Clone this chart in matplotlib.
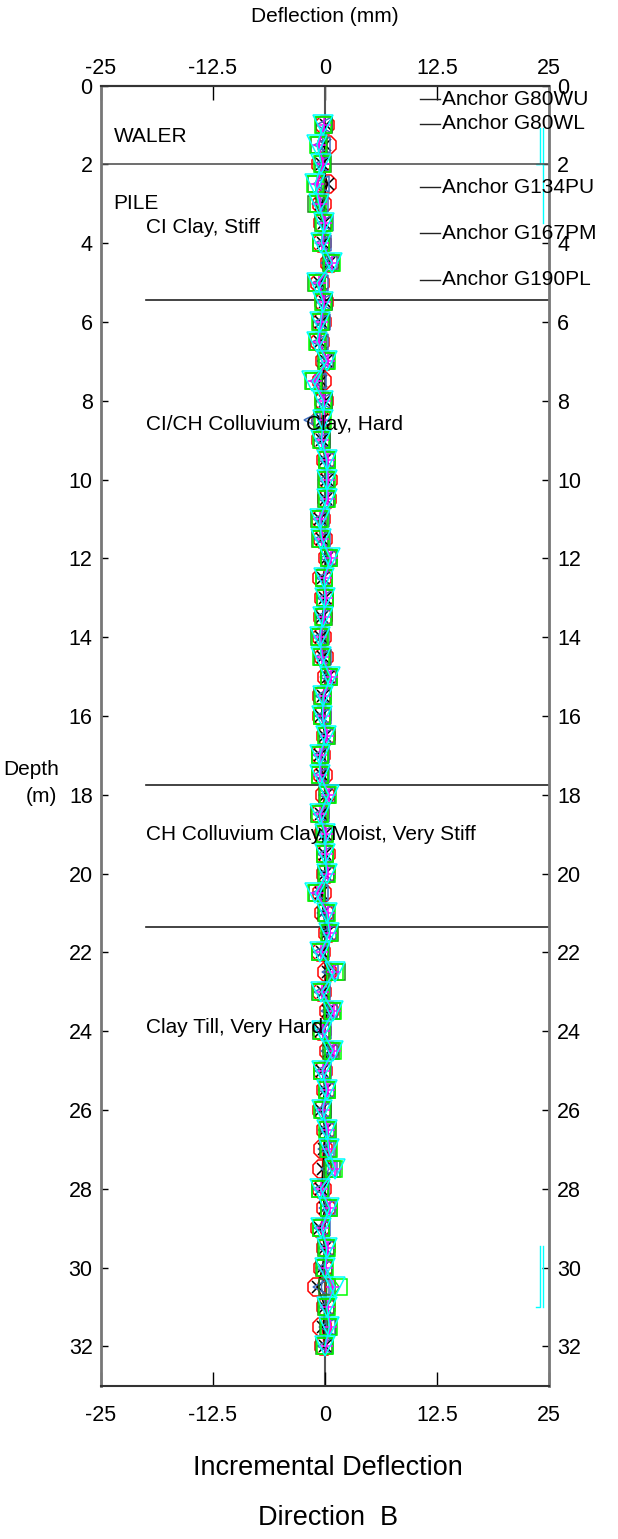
import numpy as np
import matplotlib
matplotlib.use("Agg")
import matplotlib.pyplot as plt
import matplotlib.transforms as mtransforms

plt.rcParams['font.family'] = ['Liberation Sans', 'DejaVu Sans']

# inclinometer stations (m), every 0.5 m from 1.0 to 32.0
depth = np.arange(1.0, 32.5, 0.5)

# incremental deflection (mm) per reading
read_red = [0.0, 0.2, -0.4, 0.2, -0.3, -0.2, -0.3, 0.6, -0.6, -0.1, -0.3, -0.5, 0.0, -0.3, -0.1, -0.4,
            -0.4, 0.1, 0.3, 0.2, -0.4, -0.2, 0.3, -0.3, -0.1, -0.2, -0.3, -0.1, 0.2, -0.3, -0.3, 0.1,
            -0.4, -0.2, 0.0, -0.5, -0.1, 0.1, 0.1, -0.3, -0.1, 0.3, -0.4, 0.2, -0.3, 0.4, -0.3, 0.5,
            -0.2, 0.1, -0.3, 0.1, -0.2, -0.3, -0.3, 0.1, -0.6, 0.1, -0.2, -0.9, 0.1, -0.3, -0.1]
read_black = [0.1, 0.0, -0.3, 0.3, -0.4, -0.1, -0.2, 0.5, -0.5, 0.0, -0.4, -0.6, 0.1, -0.4, 0.0, -0.3,
              -0.3, 0.0, 0.2, 0.1, -0.5, -0.3, 0.2, -0.2, 0.0, -0.3, -0.4, -0.2, 0.3, -0.2, -0.4, 0.0,
              -0.5, -0.3, 0.1, -0.4, 0.0, 0.0, 0.0, -0.4, -0.2, 0.2, -0.3, 0.3, -0.2, 0.3, -0.4, 0.4,
              -0.3, 0.0, -0.4, 0.0, -0.1, -0.2, -0.4, 0.0, -0.5, 0.0, -0.3, -0.8, 0.0, -0.2, 0.0]
read_blue = [-0.1, -0.3, -0.3, -0.4, -0.5, 0.0, -0.2, 0.4, -0.6, -0.1, -0.3, -0.6, 0.0, -0.8, -0.1, -1.5,
             -0.3, 0.1, 0.1, 0.1, -0.4, -0.3, 0.3, -0.1, 0.0, -0.2, -0.4, -0.2, 0.3, -0.2, -0.2, 0.1,
             -0.4, -0.4, 0.2, -0.4, 0.0, 0.0, 0.1, -0.6, 0.0, 0.3, -0.4, 0.6, -0.3, 0.5, -0.2, 0.5,
             -0.2, 0.1, -0.2, 0.1, 0.1, 0.4, -0.4, 0.2, -0.3, 0.1, -0.1, -0.4, 0.1, 0.2, 0.0]
read_dkgreen = [-0.1, -0.7, -0.2, -1.0, -1.0, -0.2, -0.4, 0.7, -1.0, -0.1, -0.4, -0.8, 0.1, -1.2, -0.1, -0.3,
                -0.3, 0.2, 0.1, 0.1, -0.7, -0.5, 0.4, -0.1, 0.0, -0.1, -0.7, -0.3, 0.4, -0.3, -0.3, 0.2,
                -0.6, -0.5, 0.2, -0.7, -0.1, 0.0, 0.1, -0.9, 0.1, 0.6, -0.6, 1.3, -0.6, 0.8, -0.4, 0.7,
                -0.3, 0.2, -0.2, 0.3, 0.3, 0.8, -0.5, 0.4, -0.4, 0.1, -0.1, 0.2, 0.1, 0.3, -0.1]
read_lime = [-0.2, -0.8, -0.3, -1.1, -0.8, -0.1, -0.4, 0.8, -0.9, -0.2, -0.5, -0.9, 0.2, -1.3, -0.2, -0.2,
             -0.4, 0.2, 0.2, 0.2, -0.6, -0.4, 0.5, -0.1, 0.0, -0.2, -0.6, -0.4, 0.5, -0.2, -0.3, 0.1,
             -0.6, -0.6, 0.3, -0.6, 0.0, 0.0, 0.2, -1.0, 0.2, 0.5, -0.5, 1.1, -0.4, 0.9, -0.3, 0.9,
             -0.3, 0.2, -0.3, 0.2, 0.4, 1.0, -0.5, 0.5, -0.4, 0.2, 0.0, 1.6, 0.2, 0.5, 0.0]
read_magenta = [-0.1, -0.7, -0.2, -0.9, -0.6, 0.0, -0.3, 0.8, -0.7, -0.1, -0.4, -0.7, 0.3, -1.1, -0.1, -0.1,
                -0.3, 0.3, 0.3, 0.3, -0.5, -0.3, 0.7, 0.0, 0.1, -0.1, -0.5, -0.3, 0.7, -0.1, -0.2, 0.2,
                -0.5, -0.5, 0.5, -0.5, 0.1, 0.1, 0.3, -0.9, 0.3, 0.6, -0.4, 1.0, -0.3, 1.0, -0.2, 1.0,
                -0.2, 0.3, -0.2, 0.3, 0.5, 1.1, -0.4, 0.6, -0.3, 0.3, 0.1, 0.9, 0.3, 0.6, 0.1]
read_cyan = [-0.2, -0.9, -0.4, -1.1, -0.7, -0.1, -0.4, 0.8, -0.9, -0.2, -0.5, -0.9, 0.2, -1.4, -0.2, -0.2,
             -0.4, 0.2, 0.2, 0.2, -0.6, -0.4, 0.6, -0.1, 0.0, -0.2, -0.6, -0.4, 0.6, -0.2, -0.3, 0.1,
             -0.6, -0.6, 0.4, -0.6, 0.0, 0.0, 0.2, -1.1, 0.2, 0.5, -0.5, 1.1, -0.4, 0.9, -0.3, 0.9,
             -0.3, 0.2, -0.3, 0.2, 0.4, 1.1, -0.5, 0.5, -0.4, 0.2, 0.0, 1.1, 0.2, 0.5, 0.0]

# off-scale traces near the right edge
trace_a_x = [24.05, 24.05, 23.5, 24.3]
trace_a_y = [1.08, 1.98, 1.98, 1.98]
trace_b_x = [24.3, 24.3]
trace_b_y = [1.08, 3.49]
trace_c_x = [24.05, 24.05, 23.5]
trace_c_y = [29.45, 31.0, 31.0]
trace_d_x = [24.3, 24.3]
trace_d_y = [29.45, 31.0]

# soil layers
layer_names = ["CI Clay, Stiff", "CI/CH Colluvium Clay, Hard",
               "CH Colluvium Clay, Moist, Very Stiff", "Clay Till, Very Hard"]
layer_label_depth = [3.6, 8.6, 19.0, 23.9]
layer_bounds = [5.45, 17.75, 21.35]

anchor_names = ["Anchor G80WU", "Anchor G80WL", "Anchor G134PU", "Anchor G167PM", "Anchor G190PL"]
anchor_depth = [0.35, 0.97, 2.58, 3.75, 4.93]

xticks = [-25, -12.5, 0, 12.5, 25]
xticklabels = ["-25", "-12.5", "0", "12.5", "25"]
yticks = list(range(0, 33, 2))

fig = plt.figure(figsize=(6.18, 15.39), dpi=100)
ax = fig.add_axes([0.1634, 0.0996, 0.7249, 0.8448])
ax.set_xlim(-25, 25)
ax.set_ylim(33, 0)

# zero line
ax.plot([0, 0], [0, 33], color='#555555', linewidth=1.5, zorder=1)

series = [
    (read_red, '#ff0000', '8', 14),
    (read_black, '#000000', 'x', 8),
    (read_blue, '#3f6fc0', '<', 11),
    (read_dkgreen, '#1f8a1f', 's', 12),
    (read_lime, '#00ff00', 's', 12),
    (read_magenta, '#ff00ff', '+', 10),
    (read_cyan, '#00ffff', 'v', 14),
]
for vals, col, mk, ms in series:
    ax.plot(vals, depth, color=col, linewidth=1, marker=mk, markersize=ms,
            markerfacecolor='none', markeredgecolor=col, markeredgewidth=1.1, zorder=3)

for tx, ty in [(trace_a_x, trace_a_y), (trace_b_x, trace_b_y), (trace_c_x, trace_c_y), (trace_d_x, trace_d_y)]:
    ax.plot(tx, ty, color='#00ffff', linewidth=1, zorder=2)

# waler / pile split
ax.plot([-25, 25], [2.0, 2.0], color='#555555', linewidth=1.2, zorder=2)
ax.text(-23.6, 1.3, "WALER", fontsize=15, va='center', ha='left')
ax.text(-23.6, 3.0, "PILE", fontsize=15, va='center', ha='left')

for b in layer_bounds:
    ax.plot([-20, 25], [b, b], color='#222222', linewidth=1.2, zorder=2)
for name, d in zip(layer_names, layer_label_depth):
    ax.text(-20, d, name, fontsize=15, va='center', ha='left', zorder=4)

for name, d in zip(anchor_names, anchor_depth):
    ax.plot([10.6, 12.8], [d, d], color='#222222', linewidth=1, clip_on=False)
    ax.text(13.1, d, name, fontsize=15, va='center', ha='left', clip_on=False)

ax.set_xticks(xticks)
ax.set_xticklabels(xticklabels)
ax.set_yticks(yticks)
ax.tick_params(axis='x', direction='in', top=False, bottom=True, labeltop=False, labelbottom=True,
               length=10, width=1, labelsize=15.5, pad=14)
ax.tick_params(axis='y', direction='in', left=True, right=True, labelleft=True, labelright=True,
               length=5, width=1, labelsize=15.5, pad=6)

top = ax.secondary_xaxis('top')
top.set_xticks(xticks)
top.set_xticklabels(xticklabels)
top.tick_params(direction='in', length=10, width=1, labelsize=15.5, pad=5)
top.spines['top'].set_linewidth(1.5)
top.spines['top'].set_color('#333333')

ax.spines['left'].set_color('#777777')
ax.spines['right'].set_color('#777777')
ax.spines['left'].set_linewidth(2)
ax.spines['right'].set_linewidth(2)
ax.spines['top'].set_linewidth(1.5)
ax.spines['bottom'].set_linewidth(1.5)
ax.spines['top'].set_color('#333333')
ax.spines['bottom'].set_color('#333333')

fig.text(325 / 618, 1 - 17 / 1539, "Deflection (mm)", fontsize=15, ha='center', va='center')

trans = mtransforms.blended_transform_factory(ax.transAxes, ax.transData)
ax.text(-0.155, 17.35, "Depth", fontsize=15, ha='center', va='center', transform=trans)
ax.text(-0.132, 18.05, "(m)", fontsize=15, ha='center', va='center', transform=trans)

fig.text(328 / 618, 1 - 1468 / 1539, "Incremental Deflection", fontsize=19.5, ha='center', va='center')
fig.text(328 / 618, 1 - 1518 / 1539, "Direction  B", fontsize=19.5, ha='center', va='center')

fig.savefig("out.png", dpi=100)
